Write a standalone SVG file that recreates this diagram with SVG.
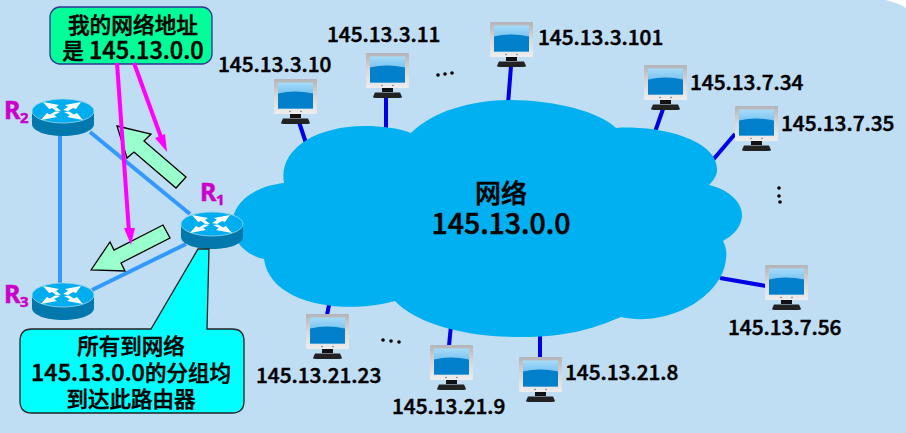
<svg xmlns="http://www.w3.org/2000/svg" xmlns:xlink="http://www.w3.org/1999/xlink" width="906" height="433" viewBox="0 0 906 433">
<style>
text{font-family:"Noto Sans CJK SC","Noto Sans",sans-serif;font-weight:500;fill:#000;stroke:#000;stroke-width:.5}
.ip{font-size:20.800px}
.c{text-anchor:middle}
.big{font-size:21.700px}
.num{font-size:23.500px}
.mid{font-size:21.500px}
.mnum{font-size:23.300px}
.r{font-size:25px;font-weight:700;fill:#CC00CC;stroke:#CC00CC;font-family:"Noto Sans",sans-serif}
.rs{font-size:15px;font-weight:700;fill:#CC00CC;stroke:#CC00CC;font-family:"Noto Sans",sans-serif}
.host{stroke:#0000E6;stroke-width:4;fill:none}
.link{stroke:#3399FF;stroke-width:4;fill:none}
.mag{stroke:#FF00FF;stroke-width:4;fill:none}
.maghead{fill:#FF00FF}
.block{fill:#99FFCC;stroke:#000;stroke-width:1.300}
</style>
<defs>
<linearGradient id="scr" x1="0" y1="0" x2="0" y2="1"><stop offset="0" stop-color="#A6DCFA"/><stop offset="1" stop-color="#3FA3E3"/></linearGradient>
<linearGradient id="frm" x1="0" y1="0" x2="0" y2="1"><stop offset="0" stop-color="#B4B4B8"/><stop offset=".5" stop-color="#D8D8DA"/><stop offset="1" stop-color="#EDEDED"/></linearGradient>
<symbol id="pc" width="44" height="46" viewBox="0 0 44 46" overflow="visible">
<rect x="0" y="0" width="43" height="35" rx="1" fill="url(#frm)"/>
<rect x="4" y="3.500" width="35" height="26" fill="url(#scr)"/>
<path d="M4 14.500Q21 10.500 39 14.500V29.500H4Z" fill="#0380CC"/>
<circle cx="16" cy="32.500" r=".8" fill="#777"/><circle cx="27" cy="32.500" r=".8" fill="#777"/>
<path d="M16 35H27V39H16Z" fill="#111"/>
<path d="M9 39.500H34L36 44Q36 45 33 45H10Q7 45 7 44Z" fill="#222"/>
</symbol>
<symbol id="rt" width="64" height="38" viewBox="0 0 64 38" overflow="visible">
<path d="M1 12V25C1 32 15 37 32 37S63 32 63 25V12Z" fill="#0278AC"/>
<ellipse cx="32" cy="12" rx="31" ry="12" fill="#00ADEF" stroke="#9AD6F0" stroke-width=".8"/>
<g fill="#fff">
<path d="M12 3L28 6L25 8L30 12L26 12.500L21 9L18 10Z"/>
<path d="M50 3L34 6L37 8L32 11L37 12L42 9L45 10Z"/>
<path d="M10 21L26 18L23 16L29 13L24 12.500L19 15.500L16 14Z"/>
<path d="M52 21L36 18L39 16L33 13L38 12.500L43 15.500L46 14Z"/>
</g>
</symbol>
</defs>
<rect width="906" height="433" fill="#BFDDF3"/>
<path d="M886 0Q898 3 906 8V0Z" fill="#fff"/>

<g id="connectors">
<path class="link" d="M90 132L190 214"/>
<path class="link" d="M60 136V283"/>
<path class="link" d="M92 290L186 244"/>
<path class="host" d="M299 122L307 146"/>
<path class="host" d="M386 97V132"/>
<path class="host" d="M511 66L508 104"/>
<path class="host" d="M663 109L655 132"/>
<path class="host" d="M735 134L712 161"/>
<path class="host" d="M766 286L720 278"/>
<path class="host" d="M540 330V358"/>
<path class="host" d="M451 325L449 346"/>
<path class="host" d="M330 300L327 315"/>
</g>

<g id="cloud">
<path fill="#00B0F0" d="M232 225C232 205 250 187 284 183C278 150 315 126 365 126C382 126 398 128 411 133C432 112 470 100 510 100C555 100 600 112 616 128C660 125 718 140 717 170C717 176 713 181 709 185C730 190 742 203 742 215C742 226 734 235 723 241C726 247 727 252 726 258C724 295 670 328 621 317C590 330 565 337 520 337C460 337 415 322 395 301C345 315 270 305 264 259C245 255 232 240 232 225Z"/>
<text class="c" x="501" y="203" style="font-size:26px">网络</text>
<text class="c" x="501" y="234" style="font-size:28.500px">145.13.0.0</text>
</g>

<g id="block-arrows">
<path class="block" d="M117 126L151 134L144 141L186 177L176 188L134 152L127 158Z"/>
<path class="block" d="M91 270L110 242L114 250L163 225L170 238L121 263L125 271Z"/>
</g>

<g id="R1"><use xlink:href="#rt" href="#rt" x="180" y="212"/><text class="r" x="200" y="201">R</text><text class="rs" x="216" y="205">1</text></g>
<g id="R2"><use xlink:href="#rt" href="#rt" x="31" y="99"/><text class="r" x="4" y="119">R</text><text class="rs" x="20" y="123">2</text></g>
<g id="R3"><use xlink:href="#rt" href="#rt" x="31" y="283"/><text class="r" x="4" y="303">R</text><text class="rs" x="20" y="307">3</text></g>

<g id="h1"><use xlink:href="#pc" href="#pc" x="274" y="79"/><text class="ip" x="218" y="72">145.13.3.10</text></g>
<g id="h2"><use xlink:href="#pc" href="#pc" x="366" y="53"/><text class="ip" x="327" y="42">145.13.3.11</text></g>
<g id="h3"><use xlink:href="#pc" href="#pc" x="490" y="22"/><text class="ip" x="538" y="45">145.13.3.101</text></g>
<g id="h4"><use xlink:href="#pc" href="#pc" x="644" y="65"/><text class="ip" x="690" y="90">145.13.7.34</text></g>
<g id="h5"><use xlink:href="#pc" href="#pc" x="735" y="106"/><text class="ip" x="781" y="131">145.13.7.35</text></g>
<g id="h6"><use xlink:href="#pc" href="#pc" x="765" y="265"/><text class="ip" x="728" y="335">145.13.7.56</text></g>
<g id="h7"><use xlink:href="#pc" href="#pc" x="519" y="357"/><text class="ip" x="565" y="380">145.13.21.8</text></g>
<g id="h8"><use xlink:href="#pc" href="#pc" x="430" y="345"/><text class="ip" x="392" y="414">145.13.21.9</text></g>
<g id="h9"><use xlink:href="#pc" href="#pc" x="306" y="314"/><text class="ip" x="256" y="383">145.13.21.23</text></g>

<g id="ellipses" fill="#000">
<circle cx="438" cy="75" r="1.800"/><circle cx="445" cy="74" r="1.800"/><circle cx="452" cy="73" r="1.800"/>
<circle cx="383" cy="340" r="1.800"/><circle cx="391" cy="341" r="1.800"/><circle cx="399" cy="342" r="1.800"/>
<circle cx="779" cy="188" r="1.800"/><circle cx="779" cy="196" r="1.800"/><circle cx="780" cy="202" r="1.800"/>
</g>

<g id="note-address">
<rect x="50" y="7" width="162" height="57" rx="10" fill="#00FF99" stroke="#333399" stroke-width="1.300"/>
<text class="c big" x="133" y="33">我的网络地址</text>
<text class="c big" x="133" y="59">是 <tspan class="num">145.13.0.0</tspan></text>
</g>
<g id="pointers">
<path class="mag" d="M117 63L129 232"/><path class="maghead" d="M124 228L135 228L131 245Z"/>
<path class="mag" d="M134 63L162 140"/><path class="maghead" d="M155 138L165 134L167 152Z"/>
</g>
<g id="note-router">
<path d="M32 329H151L198 249H209L207 329H232Q244 329 244 341V401Q244 413 232 413H32Q20 413 20 401V341Q20 329 32 329Z" fill="#00FFFF" stroke="#222" stroke-width="1.300"/>
<text class="c mid" x="131" y="354">所有到网络</text>
<text class="c mid" x="131" y="381"><tspan class="mnum">145.13.0.0</tspan>的分组均</text>
<text class="c mid" x="131" y="407">到达此路由器</text>
</g>
</svg>
